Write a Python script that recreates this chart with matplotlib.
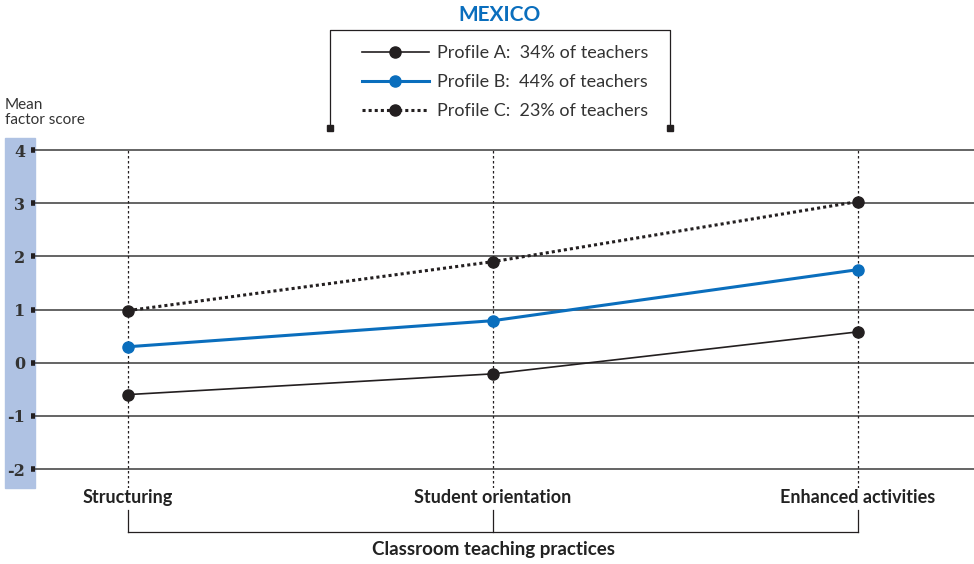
import matplotlib.pyplot as plt
from matplotlib.patches import Rectangle
from matplotlib.lines import Line2D

plt.rcParams['font.family'] = ['Lato', 'DejaVu Sans']

categories = ["Structuring", "Student orientation", "Enhanced activities"]
profile_a = [-0.60, -0.21, 0.58]
profile_b = [0.30, 0.79, 1.75]
profile_c = [0.98, 1.90, 3.03]
labels = ["Profile A:  34% of teachers", "Profile B:  44% of teachers", "Profile C:  23% of teachers"]
yticks = [-2, -1, 0, 1, 2, 3, 4]

W, H = 974, 564
fig = plt.figure(figsize=(W / 100, H / 100), dpi=100)

def fx(px):
    return px / W

def fy(py):
    return 1 - py / H

# blue band behind the y tick labels
fig.patches.append(Rectangle((fx(5), fy(488)), fx(30), (488 - 138) / H,
                             transform=fig.transFigure, color="#afc2e3", zorder=-5))

# axes box: x 35..974, y 138..488 px
ax = fig.add_axes([fx(35), fy(488), fx(974 - 35), (488 - 138) / H])
ax.set_ylim(-2.357, 4.226)
ax.set_xlim(-0.255, 2.318)
ax.patch.set_visible(False)

black = "#231f20"
blue = "#0a6ebd"

for y in yticks:
    ax.axhline(y, color="#3a3a3a", lw=1.1, zorder=1)

x = list(range(len(categories)))
ax.vlines(x, -2.357, 4, colors=black, linestyles=(0, (2, 2)), lw=0.9, zorder=1)

ax.plot(x, profile_a, color=black, lw=1.2, marker="o", ms=8, label=labels[0], zorder=3)
ax.plot(x, profile_b, color=blue, lw=2.2, marker="o", ms=8, label=labels[1], zorder=3)
ax.plot(x, profile_c, color=black, lw=2.2, ls=(0, (1, 1)), marker="o", ms=8,
        label=labels[2], zorder=3)

for s in ax.spines.values():
    s.set_visible(False)

ax.set_yticks(yticks)
ax.set_yticklabels([str(v) for v in yticks], fontsize=11.5, fontweight="bold",
                   color="#333333", family="DejaVu Serif")
ax.tick_params(axis="y", length=3, width=4, color=black, pad=4)
ax.set_xticks(x)
ax.set_xticklabels(categories, fontsize=13, fontweight="bold", color="#222222")
ax.tick_params(axis="x", length=0, pad=1)

# bracket under the categories
tr = ax.get_xaxis_transform()
ax.plot([0, 2], [-0.126, -0.126], color=black, lw=0.9, transform=tr, clip_on=False)
for xi in x:
    ax.plot([xi, xi], [-0.063, -0.126], color=black, lw=0.9, transform=tr, clip_on=False)
ax.text(1, -0.177, "Classroom teaching practices", transform=tr, ha="center", va="center",
        fontsize=13.5, fontweight="bold", color="#222222")

fig.text(fx(5), fy(98), "Mean\nfactor score", ha="left", va="top", fontsize=11,
         color="#333333", linespacing=1.05)

# title and legend frame
fig.text(fx(500), fy(15), "MEXICO", ha="center", va="center", fontsize=15,
         fontweight="bold", color=blue)
fig.add_artist(Line2D([fx(330), fx(330), fx(670), fx(670)],
                      [fy(128), fy(30), fy(30), fy(128)], color=black, lw=0.9))
fig.add_artist(Line2D([fx(330), fx(670)], [fy(128), fy(128)], color=black,
                      ls="none", marker="s", ms=4))

leg = ax.legend(loc="upper left", bbox_to_anchor=(fx(353), fy(36)),
                bbox_transform=fig.transFigure, frameon=False, fontsize=13,
                handlelength=3.7, labelspacing=0.72, handletextpad=0.45, borderpad=0)
for t in leg.get_texts():
    t.set_color("#333333")

fig.savefig("out.png", dpi=100)
